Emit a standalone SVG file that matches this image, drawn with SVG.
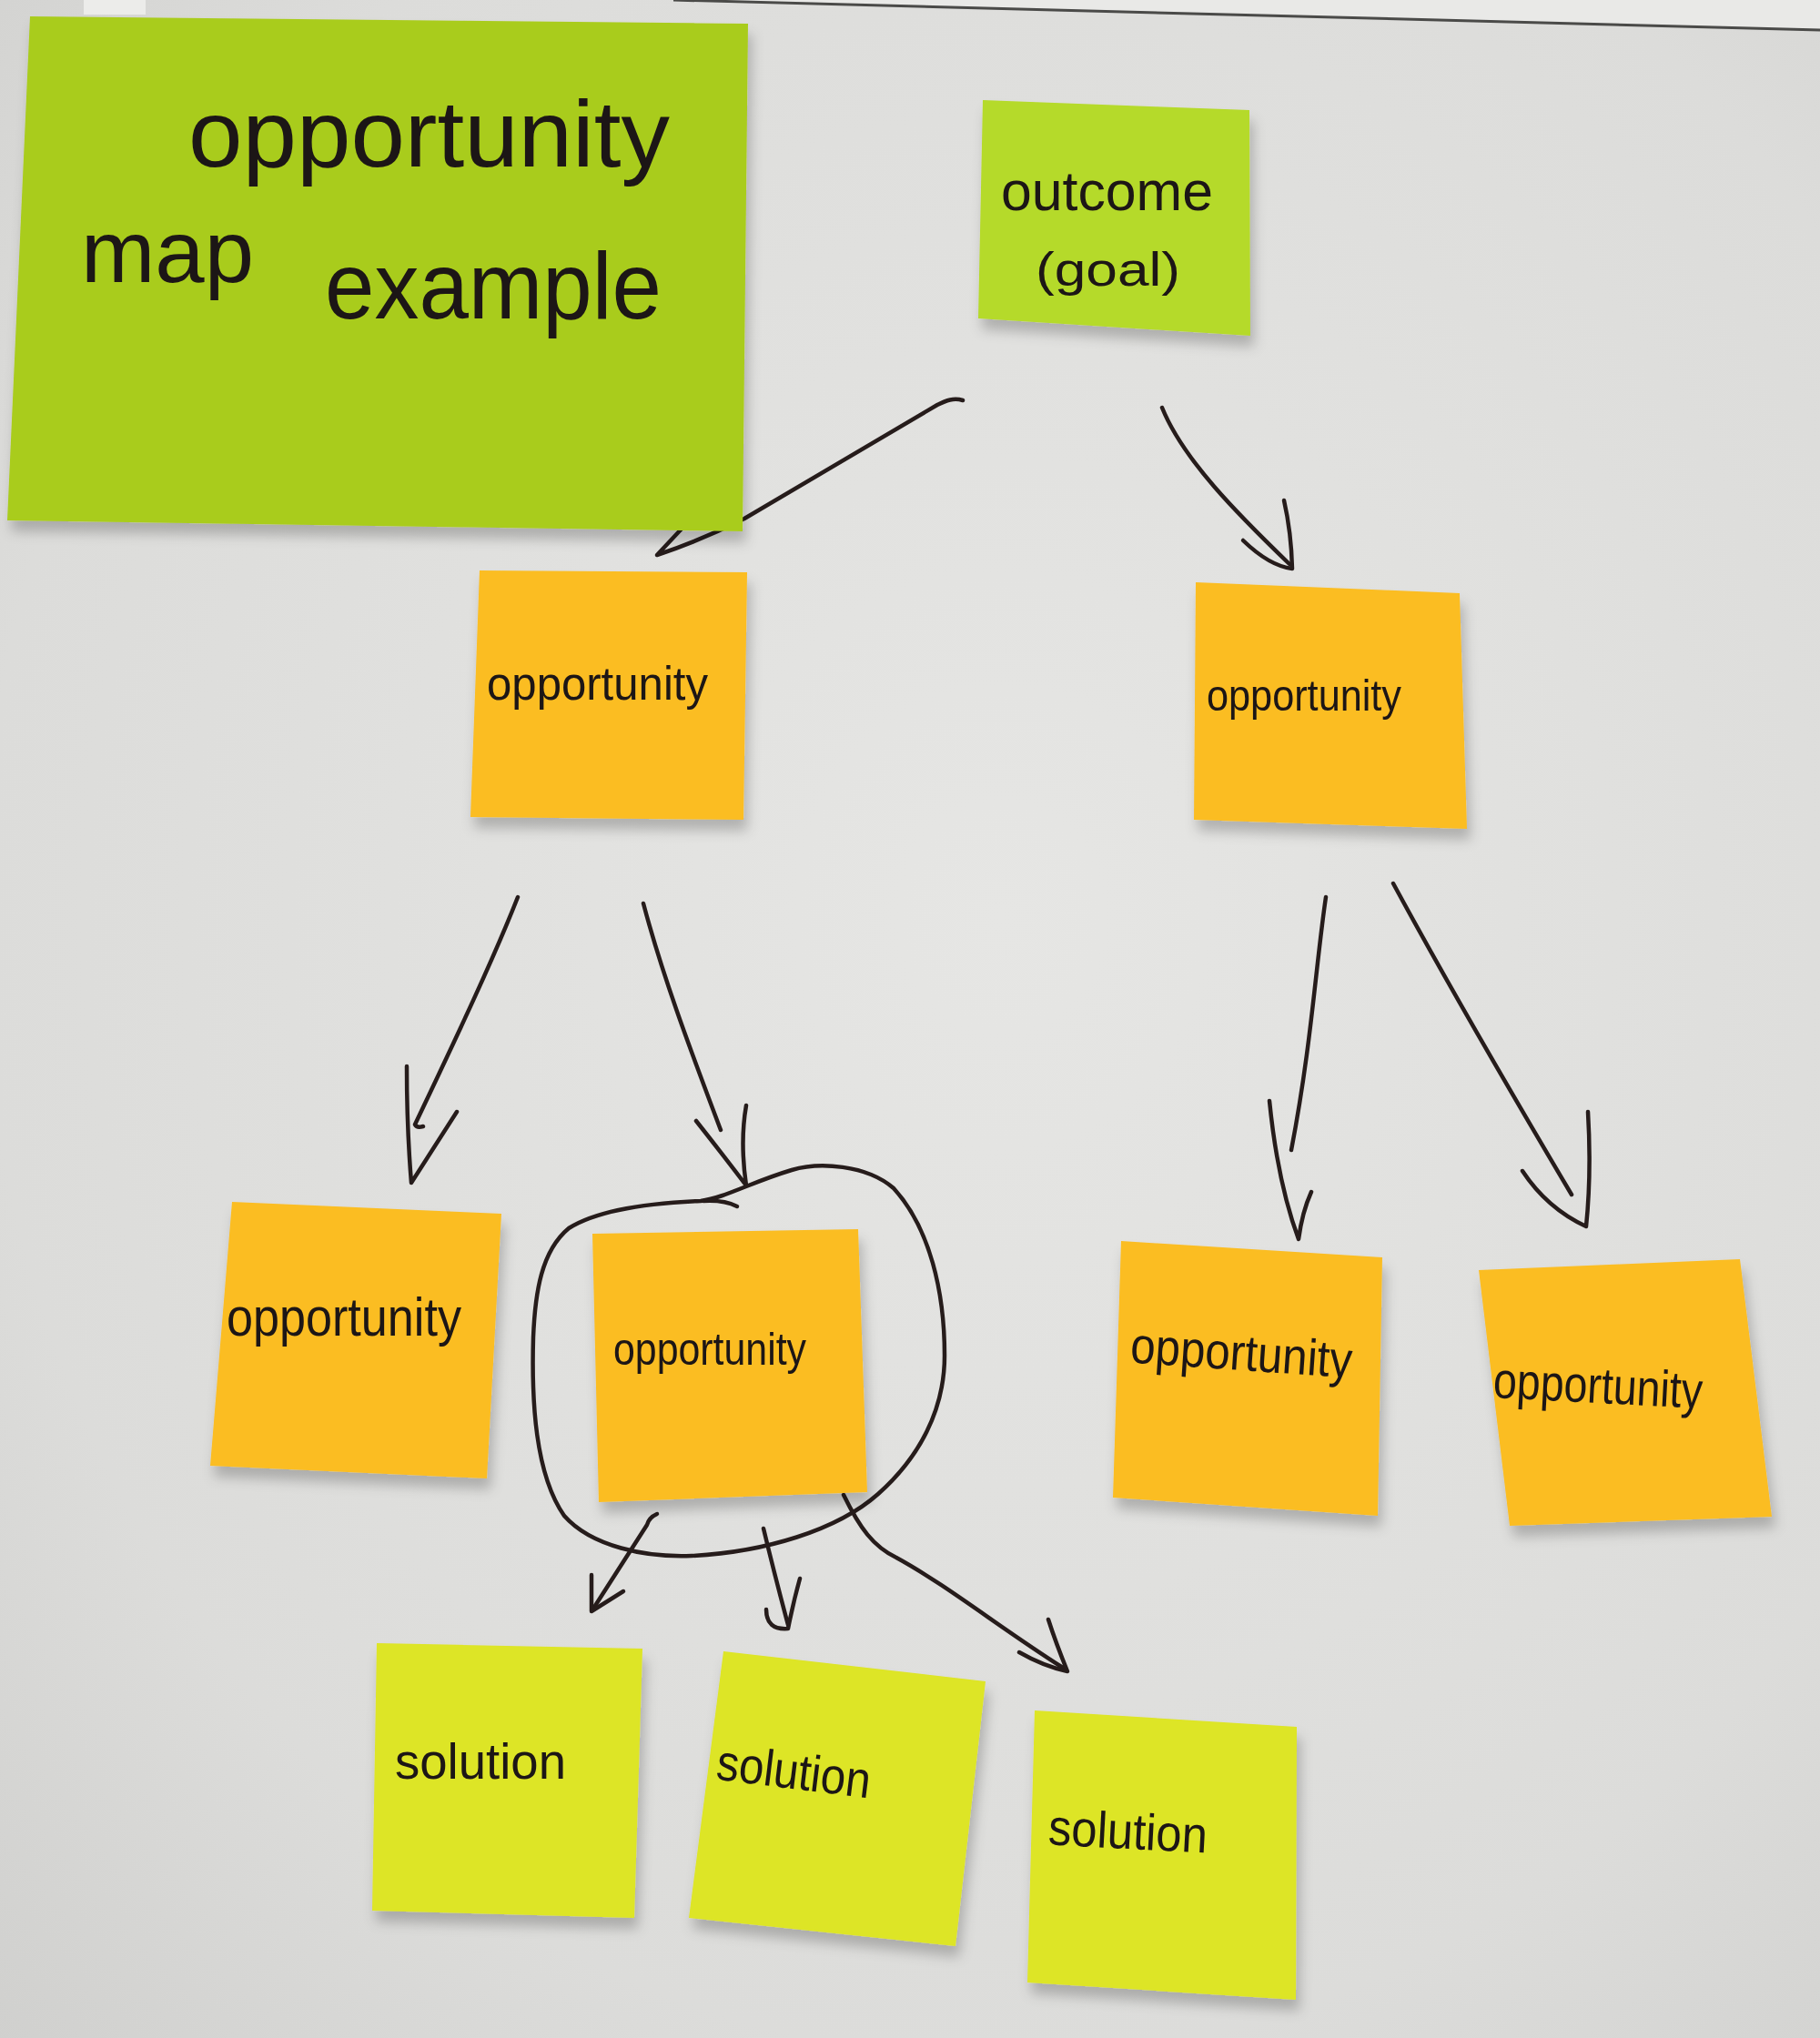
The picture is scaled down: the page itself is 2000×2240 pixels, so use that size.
<svg xmlns="http://www.w3.org/2000/svg" width="2000" height="2240" viewBox="0 0 2000 2240">
  <defs>
    <radialGradient id="board" cx="0.55" cy="0.45" r="0.8">
      <stop offset="0" stop-color="#e6e6e4"/>
      <stop offset="0.7" stop-color="#dcdcda"/>
      <stop offset="1" stop-color="#cfcfcd"/>
    </radialGradient>
    <filter id="sh" x="-10%" y="-10%" width="125%" height="130%">
      <feDropShadow dx="4" dy="12" stdDeviation="7" flood-color="#000" flood-opacity="0.22"/>
    </filter>
    <style>
      .ink { fill: none; stroke: #261c1b; stroke-width: 4.5; stroke-linecap: round; stroke-linejoin: round; }
      .hand { font-family: "Liberation Sans", "DejaVu Sans", sans-serif; fill: #1c1413; }
      .green { fill: #a9cc1d; }
      .lime { fill: #b5da2b; }
      .orange { fill: #fbbd23; }
      .solution { fill: #dde526; }
    </style>
  </defs>

  <!-- whiteboard -->
  <rect x="0" y="0" width="2000" height="2240" fill="url(#board)"/>
  <polygon points="740,0 2000,0 2000,33" fill="#e9e9e7"/>
  <line x1="740" y1="0" x2="2000" y2="33" stroke="#4a4a48" stroke-width="3"/>
  <rect x="92" y="0" width="68" height="16" fill="#ececea"/>

  <!-- connectors -->
  <g id="connectors">
    <!-- outcome -> left opportunity -->
    <path class="ink" d="M 1058 440 C 1048 437, 1040 440, 1030 445 L 818 570 Q 770 594, 722 610 L 752 578"/>
    <!-- outcome -> right opportunity -->
    <path class="ink" d="M 1277 448 C 1300 505, 1360 565, 1417 620"/>
    <path class="ink" d="M 1366 594 Q 1395 622 1420 625 Q 1419 585 1411 550"/>
    <!-- left opportunity -> opp a -->
    <path class="ink" d="M 569 986 C 540 1060, 492 1160, 456 1236 Q 458 1240 465 1238"/>
    <path class="ink" d="M 447 1172 Q 447 1240 452 1300 L 502 1222"/>
    <!-- left opportunity -> opp b -->
    <path class="ink" d="M 707 993 C 730 1080, 765 1170, 792 1242"/>
    <path class="ink" d="M 765 1232 Q 795 1270 820 1303 Q 813 1255 820 1215"/>
    <!-- circle around opp b -->
    <path class="ink" d="M 820 1304 C 800 1312, 785 1318, 770 1320 C 720 1322, 660 1328, 625 1350 C 595 1375, 588 1420, 586 1470 C 584 1540, 588 1620, 620 1666 C 650 1700, 710 1712, 760 1710 C 840 1706, 920 1682, 965 1642 C 1010 1602, 1038 1550, 1038 1490 C 1038 1420, 1022 1350, 982 1306 C 952 1280, 900 1277, 870 1286 C 850 1292, 835 1298, 820 1304"/>
    <path class="ink" d="M 773 1320 C 790 1319, 800 1321, 810 1326"/>
    <!-- right opportunity -> opp c -->
    <path class="ink" d="M 1457 986 C 1446 1060, 1441 1150, 1419 1264"/>
    <path class="ink" d="M 1395 1210 Q 1404 1300 1427 1362 Q 1431 1332 1441 1310"/>
    <!-- right opportunity -> opp d -->
    <path class="ink" d="M 1531 971 C 1590 1080, 1660 1200, 1727 1313"/>
    <path class="ink" d="M 1673 1287 Q 1700 1328 1743 1348 Q 1749 1290 1745 1222"/>
    <!-- opp b -> solutions -->
    <path class="ink" d="M 722 1664 Q 713 1668 711 1676 L 652 1768"/>
    <path class="ink" d="M 650 1731 L 650 1771 L 685 1749"/>
    <path class="ink" d="M 839 1680 Q 851 1730 866 1786"/>
    <path class="ink" d="M 842 1769 Q 842 1792 866 1790 Q 872 1760 879 1735"/>
    <path class="ink" d="M 927 1643 C 945 1680, 960 1700, 985 1712 C 1040 1742, 1100 1790, 1168 1833"/>
    <path class="ink" d="M 1120 1816 Q 1146 1831 1173 1837 Q 1160 1805 1152 1780"/>
  </g>

  <!-- title note -->
  <g id="title" filter="url(#sh)">
    <polygon class="green" points="33,18 822,26 816,584 8,572"/>
    <text class="hand" x="207" y="183" font-size="104" textLength="529" lengthAdjust="spacingAndGlyphs">opportunity</text>
    <text class="hand" x="89" y="310" font-size="96" textLength="190" lengthAdjust="spacingAndGlyphs">map</text>
    <text class="hand" x="357" y="350" font-size="104" textLength="370" lengthAdjust="spacingAndGlyphs">example</text>
  </g>

  <!-- outcome -->
  <g id="outcome" filter="url(#sh)">
    <polygon class="lime" points="1080,110 1373,121 1374,369 1075,350"/>
    <text class="hand" x="1100" y="231" font-size="62" textLength="233" lengthAdjust="spacingAndGlyphs">outcome</text>
    <text class="hand" x="1138" y="314" font-size="52" textLength="159" lengthAdjust="spacingAndGlyphs">(goal)</text>
  </g>

  <!-- level 1 opportunities -->
  <g id="opp-l1-left" filter="url(#sh)">
    <polygon class="orange" points="527,627 821,629 817,901 517,898"/>
    <text class="hand" x="535" y="769" font-size="52" textLength="243" lengthAdjust="spacingAndGlyphs">opportunity</text>
  </g>
  <g id="opp-l1-right" filter="url(#sh)">
    <polygon class="orange" points="1314,640 1604,652 1612,911 1312,901"/>
    <text class="hand" x="1326" y="781" font-size="48" textLength="214" lengthAdjust="spacingAndGlyphs">opportunity</text>
  </g>

  <!-- level 2 opportunities -->
  <g id="opp-l2-a" filter="url(#sh)">
    <polygon class="orange" points="255,1321 551,1334 535,1625 231,1611"/>
    <text class="hand" x="249" y="1468" font-size="60" textLength="258" lengthAdjust="spacingAndGlyphs">opportunity</text>
  </g>
  <g id="opp-l2-b" filter="url(#sh)">
    <polygon class="orange" points="651,1356 943,1351 953,1640 658,1651"/>
    <text class="hand" x="674" y="1500" font-size="50" textLength="212" lengthAdjust="spacingAndGlyphs">opportunity</text>
  </g>
  <g id="opp-l2-c" filter="url(#sh)">
    <polygon class="orange" points="1232,1364 1519,1382 1514,1666 1223,1646"/>
    <text class="hand" x="1242" y="1506" font-size="56" textLength="244" lengthAdjust="spacingAndGlyphs" transform="rotate(4 1364 1490)">opportunity</text>
  </g>
  <g id="opp-l2-d" filter="url(#sh)">
    <polygon class="orange" points="1625,1396 1912,1384 1947,1667 1659,1677"/>
    <text class="hand" x="1641" y="1542" font-size="56" textLength="230" lengthAdjust="spacingAndGlyphs" transform="rotate(3 1756 1525)">opportunity</text>
  </g>

  <!-- solutions -->
  <g id="solution-1" filter="url(#sh)">
    <polygon class="solution" points="414,1806 706,1812 697,2108 409,2100"/>
    <text class="hand" x="434" y="1955" font-size="56" textLength="188" lengthAdjust="spacingAndGlyphs">solution</text>
  </g>
  <g id="solution-2" filter="url(#sh)">
    <polygon class="solution" points="795,1815 1083,1848 1050,2139 757,2108"/>
    <text class="hand" x="787" y="1966" font-size="56" textLength="170" lengthAdjust="spacingAndGlyphs" transform="rotate(7 872 1950)">solution</text>
  </g>
  <g id="solution-3" filter="url(#sh)">
    <polygon class="solution" points="1137,1880 1425,1898 1424,2198 1129,2179"/>
    <text class="hand" x="1152" y="2032" font-size="56" textLength="175" lengthAdjust="spacingAndGlyphs" transform="rotate(3 1240 2015)">solution</text>
  </g>
</svg>
